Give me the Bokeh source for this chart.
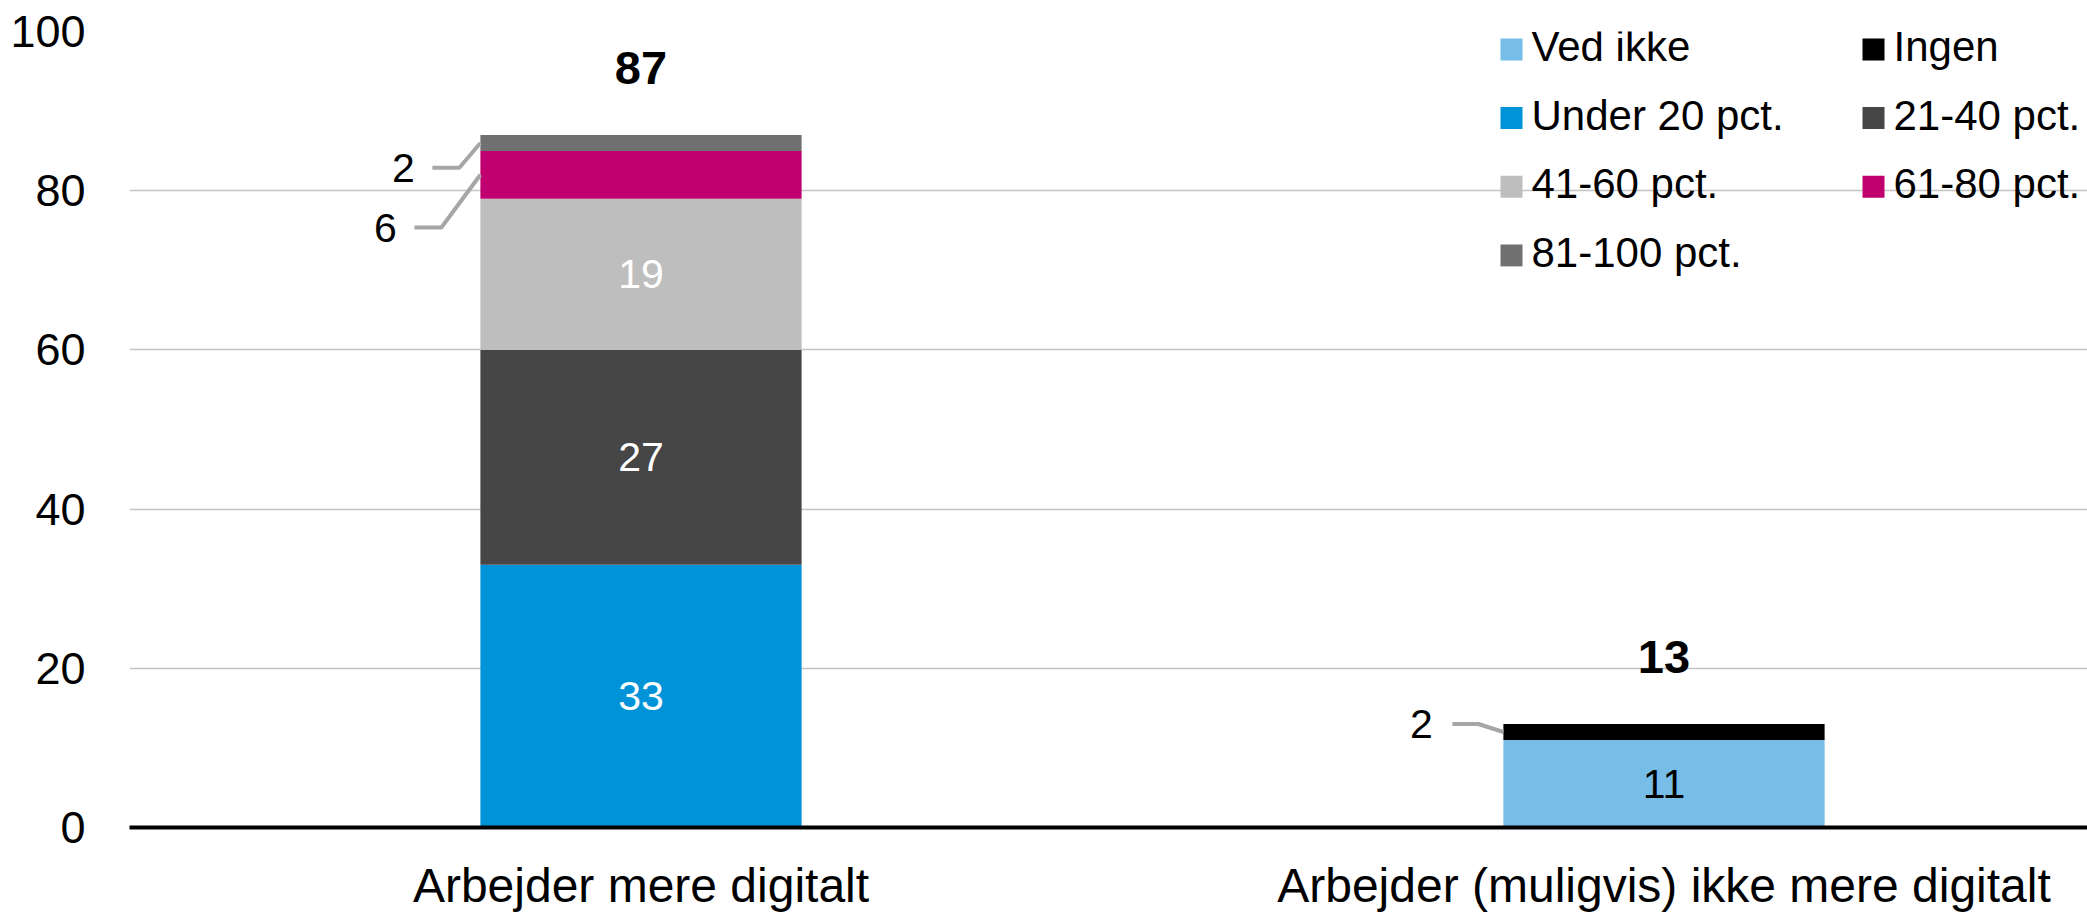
from bokeh.plotting import figure
from bokeh.models import ColumnDataSource, Range1d, FixedTicker
from bokeh.embed import file_html
from bokeh.resources import INLINE
from bokeh.core.properties import value

# ---------------- data ----------------
categories = ["Arbejder mere digitalt", "Arbejder (muligvis) ikke mere digitalt"]
series = ["Ved ikke", "Ingen", "Under 20 pct.", "21-40 pct.", "41-60 pct.", "61-80 pct.", "81-100 pct."]
ved_ikke = [0, 11]
ingen = [0, 2]
under_20 = [33, 0]
pct_21_40 = [27, 0]
pct_41_60 = [19, 0]
pct_61_80 = [6, 0]
pct_81_100 = [2, 0]
y_ticks = [0, 20, 40, 60, 80, 100]

series_values = [ved_ikke, ingen, under_20, pct_21_40, pct_41_60, pct_61_80, pct_81_100]

# ---------------- style / layout ----------------
colors = ["#76BDE8", "#000000", "#0093D8", "#464646", "#BEBEBE", "#C1006F", "#707070"]
inside_text_colors = ["#000000", "#FFFFFF", "#FFFFFF", "#FFFFFF", "#FFFFFF", "#FFFFFF", "#FFFFFF"]
FONT = "Liberation Sans"
W, H = 2087, 914
LEFT, RIGHT, TOP, BOTTOM = 129, 0, 31, 83
FRAME_W = W - LEFT - RIGHT
FRAME_H = H - TOP - BOTTOM
CAT_PX = 1023.0                      # pixel width of one category slot
X_END = FRAME_W / CAT_PX
BAR_W = 0.314
PXX = X_END / FRAME_W                # data units per pixel (x)
PXY = 100.0 / FRAME_H                # data units per pixel (y)

# leader layout for small segments: (elbow dx, dy, line end dx, label dx) in px
leader_layout = {
    (0, 6): (-21, 25, -48, -77),
    (0, 5): (-39, 53, -66, -95),
    (1, 1): (-25, -8, -51, -82),
}

xs_pos = [i + 0.5 for i in range(len(categories))]

data = {"x": xs_pos}
for name, vals in zip(series, series_values):
    data[name] = vals
source = ColumnDataSource(data)

p = figure(width=W, height=H, output_backend="svg", toolbar_location=None,
           x_range=Range1d(0, X_END), y_range=Range1d(0, 100),
           min_border_left=LEFT, min_border_right=RIGHT,
           min_border_top=TOP, min_border_bottom=BOTTOM,
           outline_line_color=None, background_fill_color="white")

p.vbar_stack(series, x="x", width=BAR_W, fill_color=colors, line_color=None, source=source)

# axes
p.xaxis.ticker = FixedTicker(ticks=xs_pos)
p.xaxis.major_label_overrides = {x: c for x, c in zip(xs_pos, categories)}
p.xaxis.axis_line_width = 4
p.xaxis.axis_line_color = "black"
p.xaxis.major_tick_line_color = None
p.xaxis.minor_tick_line_color = None
p.xaxis.major_label_text_font = FONT
p.xaxis.major_label_text_font_size = "48px"
p.xaxis.major_label_text_color = "black"
p.xaxis.major_label_standoff = 25

p.yaxis.ticker = FixedTicker(ticks=y_ticks)
p.yaxis.axis_line_color = None
p.yaxis.major_tick_line_color = None
p.yaxis.minor_tick_line_color = None
p.yaxis.major_label_text_font = FONT
p.yaxis.major_label_text_font_size = "45px"
p.yaxis.major_label_text_color = "black"
p.yaxis.major_label_standoff = 38

p.xgrid.grid_line_color = None
p.ygrid.ticker = FixedTicker(ticks=y_ticks)
p.ygrid.grid_line_color = "#C4C4C4"
p.ygrid.grid_line_width = 1.5

# segment labels
in_x, in_y, in_t, in_c = [], [], [], []
out_x, out_y, out_t = [], [], []
lead_xs, lead_ys = [], []
for ci, xc in enumerate(xs_pos):
    base = 0
    for si, vals in enumerate(series_values):
        v = vals[ci]
        if v > 0:
            mid = base + v / 2.0
            if (ci, si) in leader_layout:
                edx, edy, ldx, tdx = leader_layout[(ci, si)]
                ax = xc - BAR_W / 2
                ex = ax + edx * PXX
                ey = mid - edy * PXY
                lx = ax + ldx * PXX
                lead_xs.append([ax, ex, lx])
                lead_ys.append([mid, ey, ey])
                out_x.append(ax + tdx * PXX)
                out_y.append(ey)
                out_t.append(str(v))
            else:
                in_x.append(xc)
                in_y.append(mid)
                in_t.append(str(v))
                in_c.append(inside_text_colors[si])
        base += v

p.text(x=in_x, y=in_y, text=in_t, text_color=in_c, text_align="center",
       text_baseline="middle", text_font=value(FONT), text_font_size="41px")
p.multi_line(xs=lead_xs, ys=lead_ys, line_color="#A6A6A6", line_width=4)
p.text(x=out_x, y=out_y, text=out_t, text_color="black", text_align="center",
       text_baseline="middle", text_font=value(FONT), text_font_size="41px")

# totals
totals = [sum(vals[ci] for vals in series_values) for ci in range(len(categories))]
p.text(x=xs_pos, y=[t + 67 * PXY for t in totals], text=[str(t) for t in totals],
       text_color="black", text_align="center", text_baseline="middle",
       text_font=value(FONT), text_font_size="47px", text_font_style="bold")

# manual legend (2 columns, row-major)
col_px = [1511, 1873]
row_py = [49, 118, 187, 256]
lg_x, lg_y, lt_x, lt_y = [], [], [], []
for i, name in enumerate(series):
    r, c = divmod(i, 2)
    sx = (col_px[c] - LEFT) * PXX
    sy = (TOP + FRAME_H - row_py[r]) * PXY
    lg_x.append(sx)
    lg_y.append(sy)
    lt_x.append((col_px[c] + 20 - LEFT) * PXX)
    lt_y.append((TOP + FRAME_H - row_py[r] + 3) * PXY)
p.rect(x=lg_x, y=lg_y, width=22, height=22, width_units="screen", height_units="screen",
       fill_color=colors, line_color=None)
p.text(x=lt_x, y=lt_y, text=series, text_color="black", text_align="left",
       text_baseline="middle", text_font=value(FONT), text_font_size="42px")

open("out.html", "w").write(file_html(p, INLINE))
